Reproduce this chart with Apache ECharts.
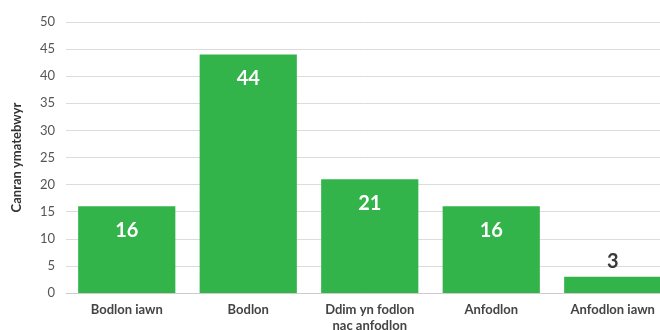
<!DOCTYPE html>
<html><head><meta charset="utf-8">
<script src="https://cdn.jsdelivr.net/npm/echarts@6/dist/echarts.min.js"></script>
<style>html,body{margin:0;padding:0;background:#fff}#c{width:660px;height:330px}</style>
</head><body><div id="c"></div>
<script>
const categories = ['Bodlon iawn', 'Bodlon', 'Ddim yn fodlon\nnac anfodlon', 'Anfodlon', 'Anfodlon iawn'];
const values = [16, 44, 21, 16, 3];
const yTitle = 'Canran ymatebwyr';
const FONT = 'Lato, "Noto Sans", sans-serif';
const chart = echarts.init(document.getElementById('c'), null, {renderer: 'canvas'});
chart.setOption({
  animation: false,
  textStyle: {fontFamily: FONT},
  grid: {left: 66, top: 22, bottom: 37, width: 607.5, containLabel: false, outerBoundsMode: 'none'},
  xAxis: {
    type: 'category', data: categories,
    axisTick: {show: false},
    axisLine: {lineStyle: {color: '#cccccc', width: 1}},
    axisLabel: {color: '#444', fontSize: 13, fontWeight: 'bold', fontFamily: FONT, margin: 9, lineHeight: 16, interval: 0}
  },
  yAxis: {
    type: 'value', min: 0, max: 50, interval: 5,
    name: yTitle, nameLocation: 'middle', nameGap: 43, nameRotate: 90,
    nameTextStyle: {color: '#333', fontSize: 13, fontWeight: 'bold', fontFamily: FONT},
    axisLine: {show: false}, axisTick: {show: false},
    axisLabel: {color: '#555', fontSize: 13, fontFamily: FONT, margin: 11},
    splitLine: {lineStyle: {color: '#dcdcdc', width: 1}}
  },
  series: [{
    type: 'bar', data: values.map(v => ({
      value: v,
      label: v < 8 ? {position: 'top', distance: 5, color: '#3a3a3a'} : {position: 'insideTop', distance: 14, color: '#fff'}
    })),
    barCategoryGap: '20%',
    itemStyle: {color: '#33b44a'},
    label: {show: true, fontSize: 20, fontWeight: 'bold', fontFamily: FONT}
  }]
});
</script></body></html>
